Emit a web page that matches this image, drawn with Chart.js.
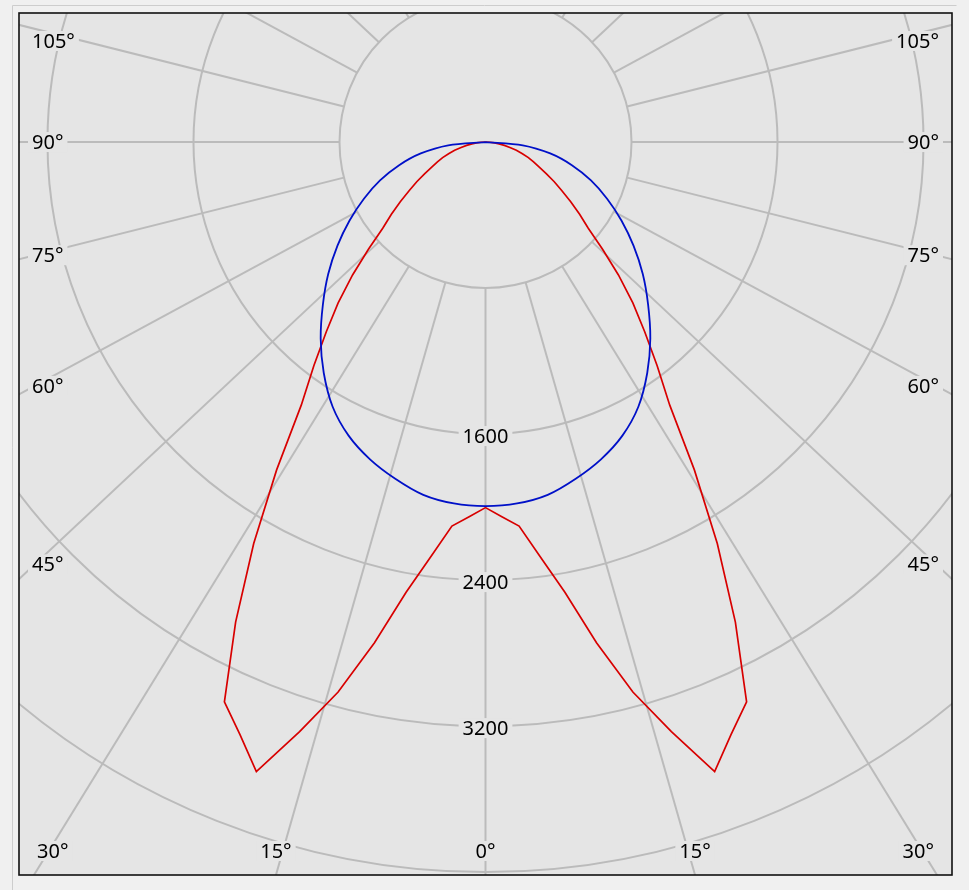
<!DOCTYPE html>
<html><head><meta charset="utf-8">
<script src="https://cdn.jsdelivr.net/npm/chart.js@4/dist/chart.umd.min.js"></script>
<style>html,body{margin:0;padding:0;background:#f0f0f0;overflow:hidden}#wrap{width:969px;height:890px;position:relative}</style>
</head><body><div id="wrap"><canvas id="c" width="969" height="890"></canvas></div>
<script>
// Gamma angles (degrees from nadir) and luminous intensities (cd), mirrored on both sides
const redAngles  = [0,2.5,5,7.5,10,12.5,15,17.5,20,22.5,25,27.5,30,32.5,35,37.5,40,42.5,45,47.5,50,52.5,55,57.5,60,62.5,65,67.5,70,72.5,75,77.5,80,82.5,85,87.5,90];
const redValues  = [2003,2055,2112,2290,2505,2810,3120,3387,3671,3515,3385,2965,2540,2130,1760,1545,1357,1195,1030,870,735,650,570,495,435,375,325,285,250,212,175,137,105,75,50,25,0];
const blueAngles = [0,5,10,15,20,25,30,35,40,45,50,55,60,65,70,75,80,85,90];
const blueValues = [1995,1988,1963,1910,1850,1775,1675,1545,1405,1260,1125,990,860,735,615,490,360,205,0];
// Grid
const ringValues   = [800,1600,2400,3200,4000,4800];
const ringLabels   = [1600,2400,3200];
const spokeAngles  = [0,15,30,45,60,75,90,105,120,135,150,165,180];
const angleLabels  = [0,15,30,45,60,75,90,105];

const D = Math.PI/180;
function polarPoints(angles, values){
  const left = angles.map((g,i)=>({x:-values[i]*Math.sin(g*D), y:-values[i]*Math.cos(g*D)})).reverse();
  const right = angles.map((g,i)=>({x:values[i]*Math.sin(g*D), y:-values[i]*Math.cos(g*D)}));
  return left.concat(right.slice(1));
}

const BG = '#e5e5e5', GRID = '#bbbbbb', FONT = '20px "Noto Sans", "Open Sans", sans-serif';
const SPOKE_STRETCH = 1.067;

const polarGrid = {
  id: 'polarGrid',
  beforeDraw(chart){
    const {ctx, chartArea:a} = chart;
    ctx.save();
    ctx.strokeStyle = '#cdcdcd'; ctx.lineWidth = 1;
    ctx.beginPath(); ctx.moveTo(12.5, 890); ctx.lineTo(12.5, 5.5); ctx.lineTo(956.5, 5.5); ctx.stroke();
    ctx.fillStyle = BG; ctx.fillRect(a.left, a.top, a.width, a.height);
    ctx.restore();
  },
  beforeDatasetsDraw(chart){
    const {ctx, chartArea:a, scales:{x, y}} = chart;
    const cx = x.getPixelForValue(0), cy = y.getPixelForValue(0);
    const rpx = v => x.getPixelForValue(v) - cx;
    ctx.save();
    ctx.beginPath(); ctx.rect(a.left, a.top, a.width, a.height); ctx.clip();
    ctx.strokeStyle = GRID; ctx.lineWidth = 2;
    ringValues.forEach(v => { ctx.beginPath(); ctx.arc(cx, cy, rpx(v), 0, Math.PI*2); ctx.stroke(); });
    const r0 = rpx(ringValues[0]);
    const dir = (g, s) => { let dx = s*SPOKE_STRETCH*Math.sin(g*D), dy = Math.cos(g*D); const n = Math.hypot(dx, dy); return [dx/n, dy/n]; };
    spokeAngles.forEach(g => [-1,1].forEach(s => {
      if (s < 0 && (g === 0 || g === 180)) return;
      const [dx, dy] = dir(g, s);
      ctx.beginPath(); ctx.moveTo(cx+dx*r0, cy+dy*r0); ctx.lineTo(cx+dx*2000, cy+dy*2000); ctx.stroke();
    }));
    // labels
    ctx.font = FONT; ctx.textBaseline = 'middle';
    const box = (txt, px, py) => {
      const w = ctx.measureText(txt).width, h = 18;
      ctx.fillStyle = BG; ctx.fillRect(px - w/2 - 4, py - h/2 - 1, w + 8, h + 2);
      ctx.fillStyle = '#000'; ctx.textAlign = 'center'; ctx.fillText(txt, px, py + 1);
    };
    ringLabels.forEach(v => box(String(v), cx, cy + rpx(v) + 2));
    angleLabels.forEach(g => [-1,1].forEach(s => {
      if (s < 0 && g === 0) return;
      const [dx, dy] = dir(g, s);
      const txt = g + '°', w = ctx.measureText(txt).width;
      const tB = dy > 0 ? (a.bottom - cy)/dy : Infinity;
      const tS = Math.abs(dx) > 1e-9 ? (dx < 0 ? (cx - a.left)/-dx : (a.right - cx)/dx) : Infinity;
      if (tB <= tS) {
        let px = cx + dx*tB;
        px = Math.min(Math.max(px, a.left + 18 + w/2), a.right - 18 - w/2);
        box(txt, px, a.bottom - 24);
      } else {
        let py = cy + 0.966*dy*tS;
        py = Math.min(Math.max(py, a.top + 28), a.bottom - 24);
        const px = dx < 0 ? (a.left + 13 + w/2) : (a.right - 13 - w/2);
        box(txt, px, py);
      }
    }));
    ctx.restore();
  },
  afterDraw(chart){
    const {ctx, chartArea:a} = chart;
    ctx.save(); ctx.strokeStyle = '#111'; ctx.lineWidth = 1.6;
    ctx.strokeRect(a.left, a.top, a.width, a.height); ctx.restore();
  }
};

new Chart(document.getElementById('c'), {
  type: 'scatter',
  data: { datasets: [
    { label: 'C0-C180', data: polarPoints(blueAngles, blueValues), showLine: true, borderColor: '#0010c8', borderWidth: 1.8, pointRadius: 0, tension: 0.3, order: 0 },
    { label: 'C90-C270', data: polarPoints(redAngles, redValues), showLine: true, borderColor: '#d80000', borderWidth: 1.7, pointRadius: 0, tension: 0, order: 1 }
  ]},
  options: {
    responsive: false, animation: false, devicePixelRatio: 1,
    layout: { padding: { left: 19, top: 13, right: 17, bottom: 15 } },
    scales: {
      x: { type: 'linear', display: false, min: -2556, max: 2556 },
      y: { type: 'linear', display: false, min: -4016, max: 707 }
    },
    plugins: { legend: { display: false }, tooltip: { enabled: false } }
  },
  plugins: [polarGrid]
});
</script></body></html>
